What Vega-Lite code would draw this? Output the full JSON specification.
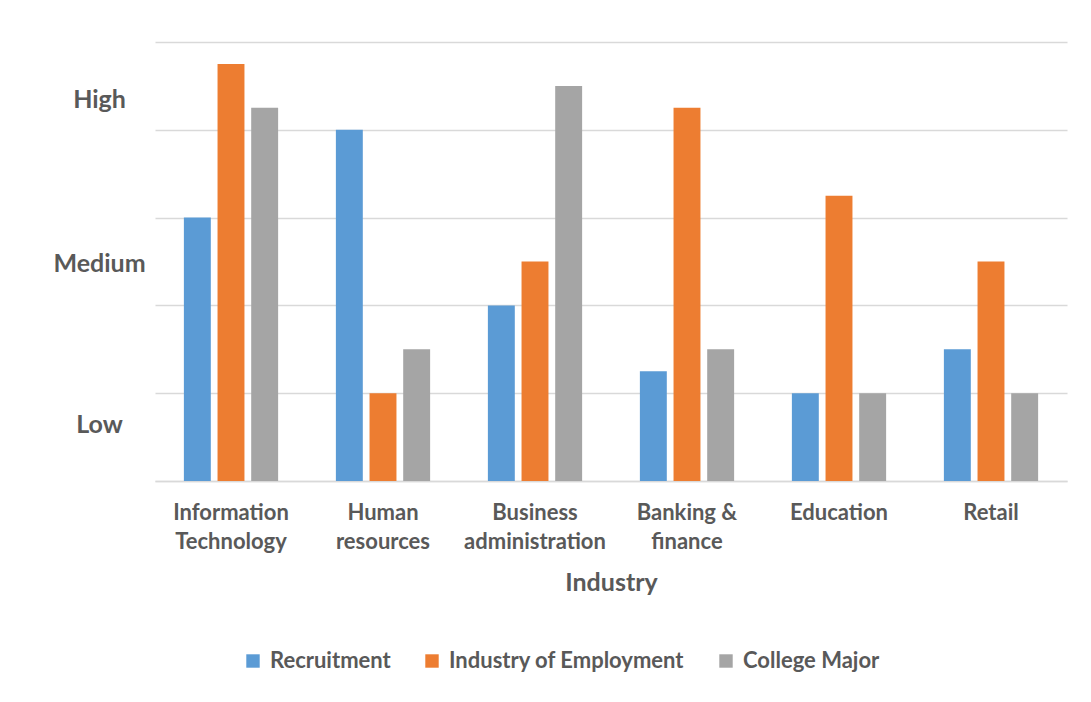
{
  "$schema": "https://vega.github.io/schema/vega-lite/v6.json",
  "autosize": {"type": "none"},
  "padding": {"left": 155, "top": 42, "right": 24, "bottom": 221},
  "width": 912,
  "height": 439,
  "background": "white",
  "config": {
    "font": "Lato",
    "view": {"stroke": null},
    "axis": {"labelColor": "#595959", "titleColor": "#595959", "labelFont": "Lato", "titleFont": "Lato"},
    "legend": {"labelColor": "#595959", "labelFont": "Lato"}
  },
  "data": {
    "values": [
      {"industry": "Information Technology", "series": "Recruitment", "value": 3},
      {"industry": "Information Technology", "series": "Industry of Employment", "value": 4.75},
      {"industry": "Information Technology", "series": "College Major", "value": 4.25},
      {"industry": "Human resources", "series": "Recruitment", "value": 4},
      {"industry": "Human resources", "series": "Industry of Employment", "value": 1},
      {"industry": "Human resources", "series": "College Major", "value": 1.5},
      {"industry": "Business administration", "series": "Recruitment", "value": 2},
      {"industry": "Business administration", "series": "Industry of Employment", "value": 2.5},
      {"industry": "Business administration", "series": "College Major", "value": 4.5},
      {"industry": "Banking & finance", "series": "Recruitment", "value": 1.25},
      {"industry": "Banking & finance", "series": "Industry of Employment", "value": 4.25},
      {"industry": "Banking & finance", "series": "College Major", "value": 1.5},
      {"industry": "Education", "series": "Recruitment", "value": 1},
      {"industry": "Education", "series": "Industry of Employment", "value": 3.25},
      {"industry": "Education", "series": "College Major", "value": 1},
      {"industry": "Retail", "series": "Recruitment", "value": 1.5},
      {"industry": "Retail", "series": "Industry of Employment", "value": 2.5},
      {"industry": "Retail", "series": "College Major", "value": 1}
    ]
  },
  "mark": {"type": "bar"},
  "encoding": {
    "x": {
      "field": "industry",
      "type": "nominal",
      "sort": ["Information Technology", "Human resources", "Business administration", "Banking & finance", "Education", "Retail"],
      "scale": {"paddingInner": 0.38, "paddingOuter": 0.19},
      "axis": {
        "title": "Industry",
        "titleFontSize": 25,
        "titleFontWeight": "bold",
        "titlePadding": 18,
        "labelAngle": 0,
        "labelFontSize": 22,
        "labelFontWeight": "bold",
        "labelPadding": 38,
        "labelLineHeight": 29,
        "labelBaseline": "alphabetic",
        "labelLimit": 300,
        "ticks": false,
        "domain": true,
        "domainColor": "#D9D9D9",
        "domainWidth": 1.5,
        "labelExpr": "datum.label == 'Information Technology' ? ['Information','Technology'] : datum.label == 'Human resources' ? ['Human','resources'] : datum.label == 'Business administration' ? ['Business','administration'] : datum.label == 'Banking & finance' ? ['Banking &','finance'] : datum.label"
      }
    },
    "xOffset": {
      "field": "series",
      "type": "nominal",
      "sort": ["Recruitment", "Industry of Employment", "College Major"],
      "scale": {"paddingInner": 0.2, "paddingOuter": 0}
    },
    "y": {
      "field": "value",
      "type": "quantitative",
      "scale": {"domain": [0, 5], "nice": false},
      "axis": {
        "title": null,
        "values": [0, 1, 2, 3, 4, 5, 0.64, 2.48, 4.34],
        "domain": false,
        "ticks": false,
        "grid": true,
        "gridColor": "#D9D9D9",
        "gridWidth": 1.5,
        "gridOpacity": {"condition": {"test": "datum.value % 1 === 0", "value": 1}, "value": 0},
        "labelFontSize": 25,
        "labelFontWeight": "bold",
        "labelAlign": "center",
        "labelPadding": 56,
        "labelLimit": 300,
        "labelExpr": "datum.value == 0.64 ? 'Low' : datum.value == 2.48 ? 'Medium' : datum.value == 4.34 ? 'High' : ''"
      }
    },
    "color": {
      "field": "series",
      "type": "nominal",
      "sort": ["Recruitment", "Industry of Employment", "College Major"],
      "scale": {"domain": ["Recruitment", "Industry of Employment", "College Major"], "range": ["#5B9BD5", "#ED7D31", "#A5A5A5"]},
      "legend": {
        "title": null,
        "orient": "none",
        "legendX": 87,
        "legendY": 608,
        "direction": "horizontal",
        "symbolType": "square",
        "symbolSize": 180,
        "symbolStrokeWidth": 0,
        "labelFontSize": 22,
        "labelFontWeight": "bold",
        "labelLimit": 400,
        "columnPadding": 30,
        "labelOffset": 6
      }
    }
  }
}
